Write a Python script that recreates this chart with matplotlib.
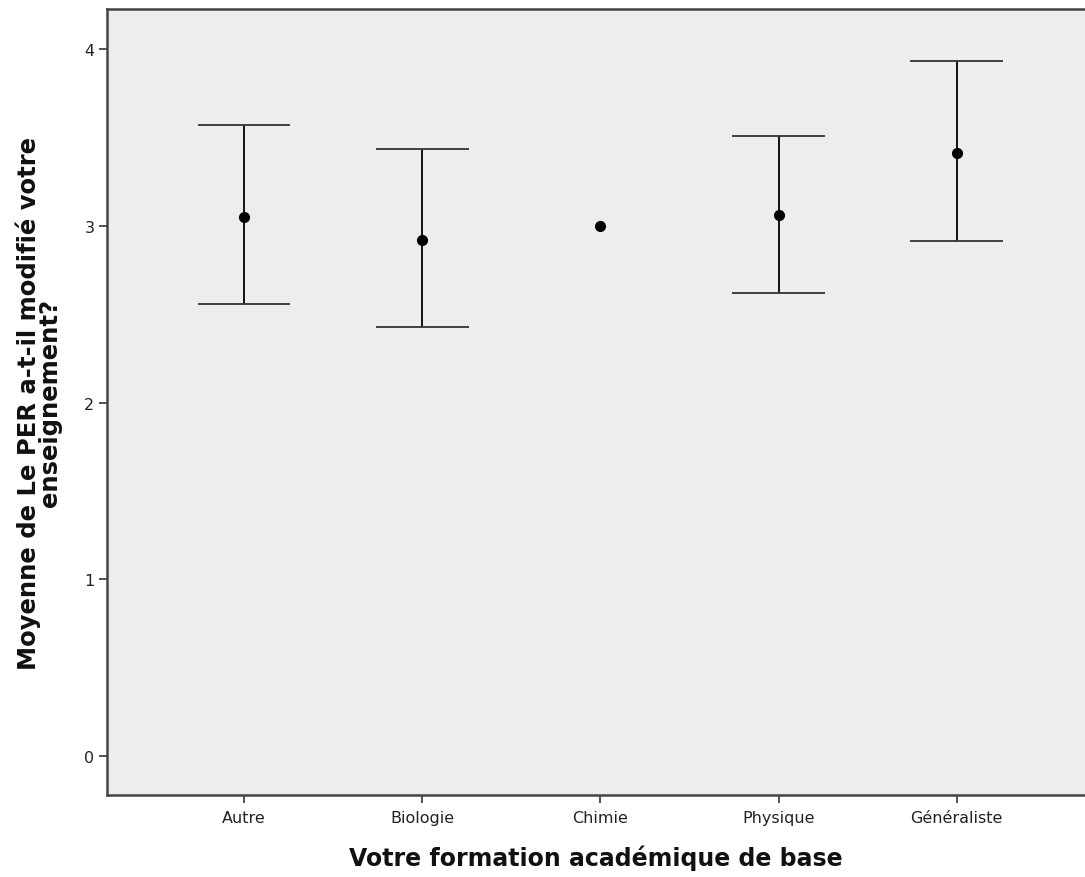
import matplotlib
matplotlib.use('Agg')
import matplotlib.pyplot as plt
import numpy as np

categories = ['Autre', 'Biologie', 'Chimie', 'Physique', 'Généraliste']
means = [3.05, 2.92, 3.00, 3.06, 3.41]
ci_low = [2.56, 2.43, np.nan, 2.62, 2.915]
ci_high = [3.57, 3.435, np.nan, 3.51, 3.93]

fig = plt.figure(figsize=(10.85, 8.78), dpi=100)
ax = fig.add_axes([0.0986, 0.0934, 0.9014, 0.8952])
ax.set_facecolor('#ededf0')

x = np.arange(len(categories))
m = np.array(means)
for i in range(len(x)):
    if np.isnan(ci_low[i]):
        continue
    ax.vlines(x[i], ci_low[i], ci_high[i], color='black', lw=1.3, zorder=2)
    ax.hlines([ci_low[i], ci_high[i]], x[i] - 0.26, x[i] + 0.26, color='#333333', lw=1.3, zorder=2)
ax.plot(x, m, 'o', color='black', ms=7, zorder=3)

ax.set_xlim(-0.77, 4.72)
ax.set_ylim(-0.22, 4.226)
ax.set_yticks([0, 1, 2, 3, 4])
ax.set_xticks(x)
ax.set_xticklabels(categories)

for s in ['left', 'bottom', 'top']:
    ax.spines[s].set_color('#444444')
    ax.spines[s].set_linewidth(1.8)
ax.spines['right'].set_visible(False)
ax.tick_params(axis='both', direction='out', length=6, width=1.3, color='#444444',
               labelsize=11.5, labelcolor='#222222')
ax.tick_params(axis='x', pad=5)
ax.tick_params(axis='y', pad=3)

ax.set_xlabel('Votre formation académique de base', fontsize=17, fontweight='bold',
              labelpad=14, color='#111111')
ax.set_ylabel('Moyenne de Le PER a-t-il modifié votre\nenseignement?', fontsize=17.5,
              fontweight='bold', labelpad=16, linespacing=0.85, color='#111111')

fig.savefig('out.png', dpi=100)
